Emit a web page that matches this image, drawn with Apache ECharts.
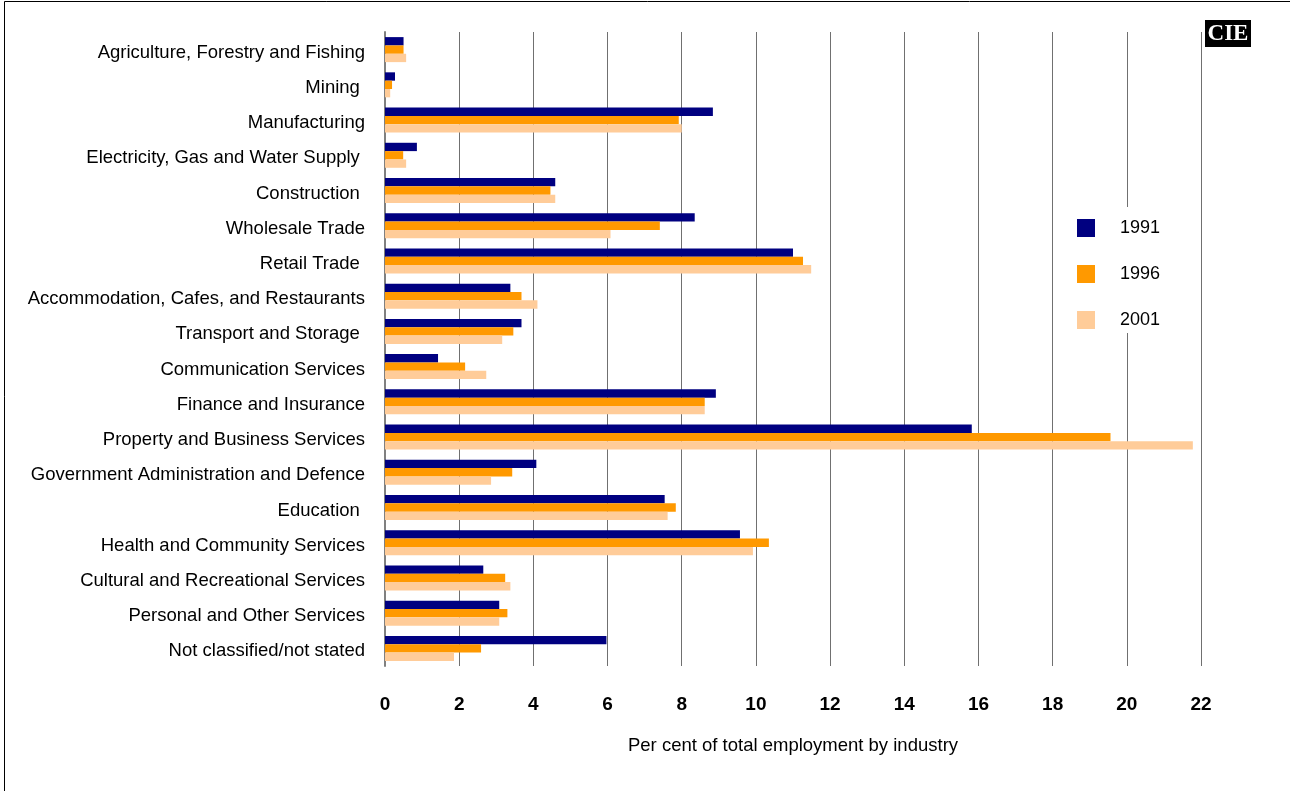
<!DOCTYPE html>
<html>
<head>
<meta charset="utf-8">
<script src="https://cdn.jsdelivr.net/npm/echarts@6/dist/echarts.min.js"></script>
<style>
  html, body { margin: 0; padding: 0; background: #fff; }
  #chart { width: 1290px; height: 791px; }
</style>
</head>
<body>
<div id="chart"></div>
<script>
// Industries, top to bottom
const industries = [
  'Agriculture, Forestry and Fishing',
  'Mining ',
  'Manufacturing',
  'Electricity, Gas and Water Supply ',
  'Construction ',
  'Wholesale Trade',
  'Retail Trade ',
  'Accommodation, Cafes, and Restaurants',
  'Transport and Storage ',
  'Communication Services',
  'Finance and Insurance',
  'Property and Business Services',
  'Government Administration and Defence',
  'Education ',
  'Health and Community Services',
  'Cultural and Recreational Services',
  'Personal and Other Services',
  'Not classified/not stated'
];

// Share of total employment (%) by census year
const share1991 = [0.50, 0.27, 8.84, 0.86, 4.59, 8.35, 11.00, 3.38, 3.68, 1.43, 8.92, 15.82, 4.08, 7.54, 9.57, 2.65, 3.08, 5.97];
const share1996 = [0.50, 0.19, 7.92, 0.49, 4.46, 7.41, 11.27, 3.68, 3.46, 2.16, 8.62, 19.56, 3.43, 7.84, 10.35, 3.24, 3.30, 2.59];
const share2001 = [0.57, 0.14, 8.00, 0.57, 4.59, 6.08, 11.49, 4.11, 3.16, 2.73, 8.62, 21.78, 2.86, 7.62, 9.92, 3.38, 3.08, 1.86];

const years = ['1991', '1996', '2001'];
const xTicks = { min: 0, max: 22, step: 2 };

const FONT = "'Liberation Sans', Arial, sans-serif";
const colors = ['#000080', '#FF9900', '#FFCC99'];

const chart = echarts.init(document.getElementById('chart'), null, { renderer: 'canvas' });

const mkSeries = (name, data, color) => ({
  name: name,
  type: 'bar',
  data: data,
  barGap: '0%',
  barCategoryGap: '29%',
  itemStyle: { color: color },
  silent: true
});

chart.setOption({
  animation: false,
  backgroundColor: '#ffffff',
  textStyle: { fontFamily: FONT },
  grid: { left: 385, right: 89, top: 32, bottom: 125, containLabel: false, outerBoundsMode: 'none' },
  legend: {
    data: years,
    orient: 'vertical',
    left: 1065,
    top: 207,
    padding: [12, 18, 4, 12],
    backgroundColor: '#ffffff',
    itemWidth: 18,
    itemHeight: 18,
    itemGap: 28,
    icon: 'rect',
    textStyle: { fontFamily: FONT, fontSize: 18, color: '#000', lineHeight: 18, padding: [0, 0, 0, 20] }
  },
  xAxis: {
    type: 'value',
    min: xTicks.min,
    max: xTicks.max,
    interval: xTicks.step,
    name: 'Per cent of total employment by industry',
    nameLocation: 'middle',
    nameGap: 70,
    nameTextStyle: { fontFamily: FONT, fontSize: 18.5, color: '#000' },
    axisLine: { show: false },
    axisTick: { show: false },
    axisLabel: { fontFamily: FONT, fontSize: 19, fontWeight: 'bold', color: '#000', margin: 29 },
    splitLine: { show: true, lineStyle: { color: '#707070', width: 1 } }
  },
  yAxis: {
    type: 'category',
    data: industries,
    inverse: true,
    axisLine: { show: true, lineStyle: { color: '#808080', width: 2 } },
    axisTick: { show: false },
    axisLabel: {
      fontFamily: FONT, fontSize: 18.5, color: '#000', margin: 20,
      verticalAlign: 'top', lineHeight: 6
    }
  },
  series: [
    mkSeries(years[0], share1991, colors[0]),
    mkSeries(years[1], share1996, colors[1]),
    mkSeries(years[2], share2001, colors[2])
  ],
  graphic: [
    {
      type: 'rect',
      silent: true,
      shape: { x: 4.5, y: 1.5, width: 1400, height: 900 },
      style: { fill: null, stroke: '#000', lineWidth: 1 }
    },
    {
      type: 'group',
      left: 1205,
      top: 20,
      children: [
        { type: 'rect', shape: { x: 0, y: 0, width: 46, height: 27 }, style: { fill: '#000' } },
        {
          type: 'text',
          x: 23, y: 14,
          style: {
            text: 'CIE',
            fill: '#fff',
            font: "bold 23px 'Liberation Serif', 'DejaVu Serif', serif",
            align: 'center',
            verticalAlign: 'middle'
          }
        }
      ]
    }
  ]
});
</script>
</body>
</html>
